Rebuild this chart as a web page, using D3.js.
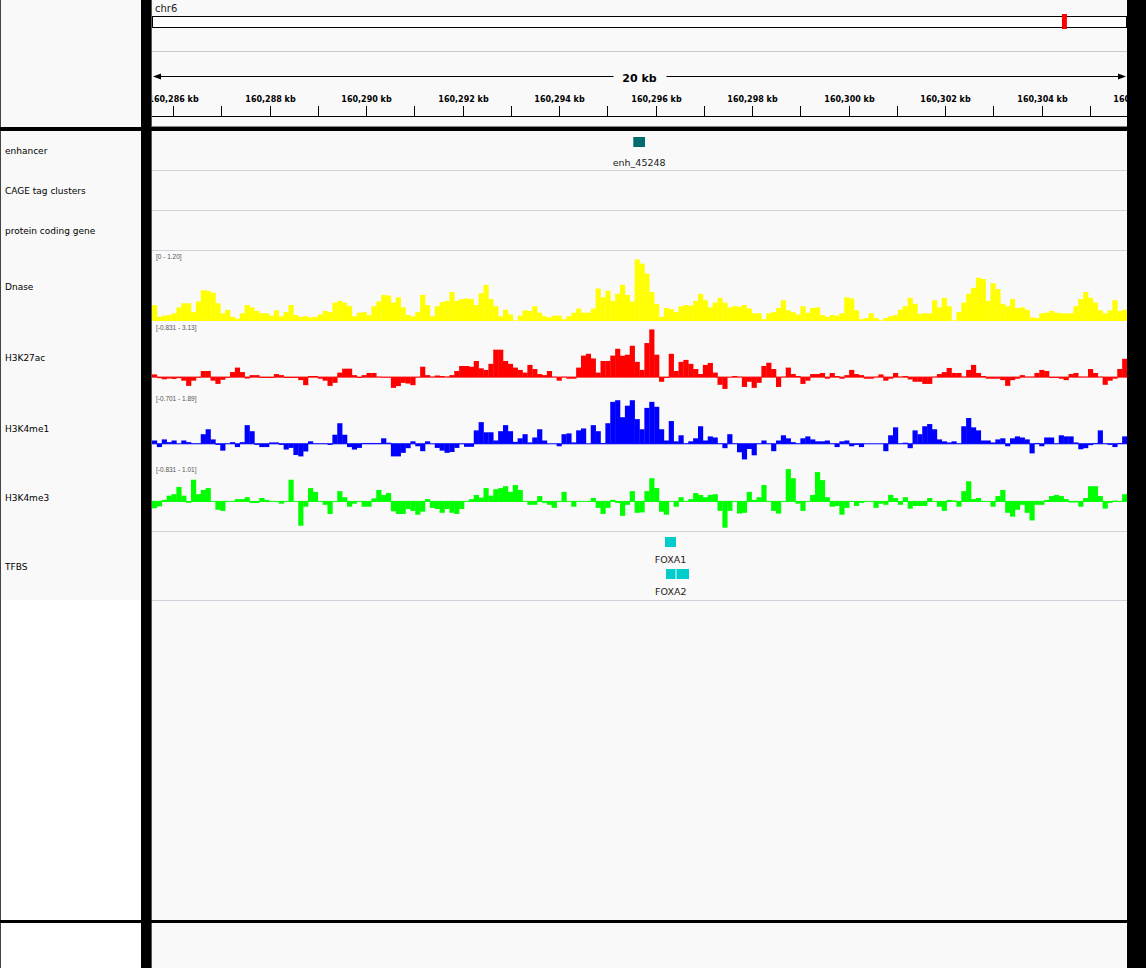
<!DOCTYPE html>
<html><head><meta charset="utf-8">
<script src="https://cdn.jsdelivr.net/npm/d3@7"></script>
<style>body{margin:0;background:#fff}svg{display:block}</style>
</head><body>
<script>
const chromName = "chr6";
const regionStart = 160285561, regionEnd = 160305768;
const chromLength = 171115067;
const tickKb = d3.range(160286, 160307, 1);
const trackNames = ["enhancer","CAGE tag clusters","protein coding gene","Dnase","H3K27ac","H3K4me1","H3K4me3","TFBS"];
const dnaseRange = [0, 1.20], k27Range = [-0.831, 3.13], me1Range = [-0.701, 1.89], me3Range = [-0.831, 1.01];
const enhancers = [{name:"enh_45248", start:160295536, end:160295778}];
const tfbs = [{name:"FOXA1", row:0, blocks:[[160296193,160296421]]},
              {name:"FOXA2", row:1, blocks:[[160296214,160296411],[160296432,160296690]]}];
const dnase = [0.27,0.07,0.09,0.10,0.13,0.23,0.30,0.30,0.15,0.33,0.52,0.51,0.48,0.30,0.13,0.19,0.07,0.04,0.13,0.27,0.23,0.17,0.13,0.13,0.09,0.18,0.08,0.15,0.27,0.10,0.07,0.08,0.06,0.07,0.11,0.17,0.15,0.31,0.34,0.31,0.25,0.08,0.14,0.15,0.10,0.25,0.33,0.44,0.43,0.31,
0.40,0.23,0.10,0.08,0.15,0.44,0.27,0.08,0.25,0.32,0.34,0.49,0.34,0.37,0.38,0.37,0.27,0.47,0.61,0.37,0.25,0.08,0.19,0.11,0.01,0.09,0.18,0.17,0.25,0.14,0.08,0.06,0.09,0.09,0.03,0.08,0.14,0.21,0.14,0.14,0.21,0.55,0.40,0.51,0.34,0.46,0.61,0.44,0.33,1.04,
0.97,0.80,0.49,0.29,0.07,0.22,0.20,0.15,0.25,0.27,0.26,0.34,0.46,0.35,0.23,0.31,0.39,0.31,0.23,0.25,0.24,0.27,0.21,0.13,0.13,0.03,0.13,0.15,0.22,0.35,0.18,0.15,0.11,0.25,0.14,0.22,0.23,0.10,0.07,0.10,0.09,0.13,0.40,0.38,0.18,0.03,0.05,0.13,0.05,0.01,
0.05,0.08,0.10,0.19,0.25,0.39,0.29,0.12,0.13,0.13,0.35,0.23,0.39,0.25,0.01,0.15,0.31,0.46,0.56,0.73,0.71,0.34,0.64,0.54,0.29,0.25,0.37,0.22,0.23,0.19,0.06,0.05,0.13,0.14,0.17,0.14,0.13,0.13,0.13,0.25,0.37,0.49,0.39,0.31,0.18,0.13,0.18,0.35,0.17,0.19];
const h3k27ac = [0.15,-0.06,-0.12,-0.08,-0.10,-0.06,-0.20,-0.49,-0.20,-0.04,0.34,0.34,-0.20,-0.38,-0.15,-0.04,0.28,0.53,0.28,-0.08,0.11,0.11,-0.05,-0.05,-0.05,0.17,0.11,-0.05,-0.05,-0.05,-0.17,-0.45,0.06,0.06,-0.09,-0.20,-0.49,-0.32,0.25,0.47,0.47,0.11,-0.05,0.11,0.23,0.23,0.02,-0.03,-0.03,-0.60,
-0.50,-0.32,-0.36,-0.45,-0.02,0.58,0.11,0.02,0.09,0.06,0.02,0.11,0.34,0.62,0.62,0.58,0.90,0.49,0.40,0.74,1.53,1.53,0.90,0.74,0.53,0.40,0.25,0.68,0.45,0.17,0.11,0.34,0.02,-0.20,0.02,-0.09,-0.09,0.53,1.20,1.30,1.04,0.25,0.90,0.90,1.20,1.58,1.19,1.25,1.75,0.85,
0.40,1.90,2.66,1.25,-0.26,-0.05,1.30,0.34,0.85,0.96,0.74,0.45,0.17,0.68,0.79,0.25,-0.43,-0.66,-0.02,0.06,0.02,-0.55,-0.26,-0.60,-0.32,0.62,0.80,0.45,-0.55,0.02,0.53,0.17,0.06,-0.38,-0.20,0.17,0.17,0.23,-0.09,0.23,0.06,-0.09,0.11,0.40,0.17,0.11,-0.09,-0.09,0.02,0.15,
-0.20,-0.09,0.23,0.02,0.06,-0.13,-0.26,-0.26,-0.38,-0.38,0.02,0.17,0.28,0.51,0.23,0.23,0.02,0.40,0.68,0.23,0.06,-0.09,-0.09,-0.09,-0.17,-0.49,-0.17,-0.09,0.11,0.02,0.02,0.23,0.40,0.34,-0.05,-0.05,-0.09,-0.17,0.17,0.23,0.02,0.02,0.45,0.23,0.02,-0.43,-0.20,-0.09,0.45,1.02];
const h3k4me1 = [0.12,-0.12,0.16,0.06,0.12,0.00,0.12,0.06,0.01,0.01,0.35,0.53,0.16,-0.04,-0.25,0.01,0.06,-0.12,0.06,0.68,0.46,-0.04,-0.12,-0.12,0.05,0.05,-0.04,-0.21,-0.15,-0.41,-0.46,-0.28,0.09,0.01,0.01,0.01,-0.04,0.33,0.75,0.33,-0.12,-0.21,-0.15,0.03,0.03,0.03,0.03,0.20,0.04,-0.46,
-0.46,-0.33,-0.16,0.09,-0.09,-0.27,0.09,0.00,-0.15,-0.25,-0.33,-0.30,-0.15,-0.01,-0.11,-0.11,0.49,0.79,0.42,0.42,0.12,0.46,0.68,0.46,0.07,0.20,0.35,0.05,0.23,0.53,0.12,0.00,0.00,-0.09,0.35,0.38,0.05,0.49,0.56,0.00,0.68,0.46,0.03,0.75,1.53,1.59,0.97,1.39,1.59,0.90,
0.53,1.31,1.53,1.35,0.53,0.12,0.83,0.09,0.31,0.01,0.09,0.20,0.64,0.12,0.27,0.23,0.01,-0.16,0.35,0.01,-0.31,-0.57,-0.19,-0.42,0.01,0.12,0.01,-0.27,0.12,0.31,0.20,0.06,0.01,0.20,0.27,0.16,0.09,0.09,0.12,0.01,-0.12,0.09,0.12,-0.09,-0.04,-0.12,0.00,0.00,0.00,0.00,
-0.27,0.31,0.60,0.01,0.04,-0.16,0.49,0.35,0.64,0.72,0.53,0.16,0.09,0.05,0.09,0.01,0.64,0.94,0.60,0.49,0.12,0.12,0.05,0.16,0.20,-0.09,0.20,0.27,0.23,0.16,-0.35,0.03,-0.09,0.23,0.23,0.01,0.31,0.27,0.27,0.05,-0.20,-0.16,-0.05,0.03,0.49,0.01,-0.04,-0.12,0.03,0.27];
const h3k4me3 = [-0.18,-0.13,0.04,0.15,0.19,0.38,0.15,-0.04,0.57,0.19,0.30,0.35,0.00,-0.22,-0.25,0.00,0.00,0.06,0.06,0.11,-0.04,-0.04,0.09,0.04,0.00,0.00,-0.06,0.00,0.57,0.00,-0.64,-0.14,0.35,0.25,0.00,-0.09,-0.33,0.00,0.27,0.11,-0.14,-0.06,0.00,-0.14,-0.14,0.08,0.30,0.17,0.22,-0.26,
-0.33,-0.33,-0.20,-0.25,-0.35,-0.27,0.06,-0.17,-0.20,-0.30,-0.20,-0.30,-0.33,-0.20,0.00,0.06,0.17,0.10,0.35,0.15,0.32,0.35,0.40,0.25,0.43,0.30,0.00,-0.09,-0.09,0.14,-0.04,-0.09,-0.17,0.00,0.25,0.00,-0.14,0.00,0.00,0.00,0.09,-0.17,-0.33,-0.17,0.04,-0.04,-0.38,-0.09,0.27,-0.30,
-0.29,0.27,0.61,0.35,-0.27,-0.35,0.00,-0.14,0.11,0.00,0.06,0.22,0.17,0.11,0.17,0.19,-0.25,-0.69,-0.25,0.00,-0.32,-0.30,0.25,0.04,0.11,0.43,0.00,-0.25,-0.32,0.00,0.85,0.61,-0.06,-0.25,0.00,0.17,0.77,0.56,0.11,-0.14,-0.12,-0.35,-0.17,0.00,-0.12,-0.04,0.00,0.00,-0.17,-0.06,
-0.09,0.17,0.09,-0.09,0.11,-0.19,-0.12,-0.12,-0.12,0.09,0.00,-0.14,-0.25,0.04,0.02,-0.14,0.27,0.53,0.06,0.09,0.00,0.00,-0.14,0.14,0.30,-0.30,-0.40,-0.22,-0.09,-0.30,-0.50,-0.09,-0.09,0.04,0.14,0.17,0.14,0.06,-0.03,-0.03,-0.14,0.09,0.40,0.40,0.14,-0.19,-0.04,0.02,0.00,0.19];

const W = 1146, H = 968;
const PX0 = 152, PX1 = 1127;
const svg = d3.select("body").append("svg").attr("width", W).attr("height", H);
const x = d3.scaleLinear().domain([regionStart, regionEnd]).range([PX0, PX1]);

// backgrounds
svg.append("rect").attr("x",0).attr("y",0).attr("width",W).attr("height",H).attr("fill","#ffffff");
svg.append("rect").attr("x",0).attr("y",0).attr("width",141).attr("height",128).attr("fill","#f9f9f9");
svg.append("rect").attr("x",0).attr("y",130).attr("width",141).attr("height",470).attr("fill","#f9f9f9");
svg.append("rect").attr("x",PX0-1).attr("y",0).attr("width",PX1-PX0+1).attr("height",H).attr("fill","#f9f9f9");
svg.append("line").attr("x1",0.5).attr("x2",0.5).attr("y1",0).attr("y2",H).attr("stroke","#444");
svg.append("line").attr("x1",PX0-0.5).attr("x2",PX0-0.5).attr("y1",0).attr("y2",H).attr("stroke","#555");

const defs = svg.append("defs");
defs.append("clipPath").attr("id","clip").append("rect").attr("x",PX0).attr("y",0).attr("width",PX1-PX0).attr("height",H);
const g = svg.append("g").attr("clip-path","url(#clip)");

// header: chromosome ideogram
g.append("text").attr("x",155).attr("y",12).attr("font-family","DejaVu Sans").attr("font-size",10).attr("fill","#222").text(chromName);
const ideo = d3.scaleLinear().domain([0, chromLength]).range([PX0, PX1-1]);
g.append("rect").attr("x",ideo(0)+0.5).attr("y",16.5).attr("width",ideo(chromLength)-ideo(0)).attr("height",11).attr("fill","#fff").attr("stroke","#000");
g.append("rect").attr("x",ideo((regionStart+regionEnd)/2)-2.5).attr("y",14).attr("width",5).attr("height",15).attr("fill","#ff0000");
g.append("line").attr("x1",PX0).attr("x2",PX1).attr("y1",51.5).attr("y2",51.5).attr("stroke","#c8c8c8");

// ruler
const rulerY = 76.5;
const spanKb = Math.round((regionEnd-regionStart)/1000);
const midX = x((regionStart+regionEnd)/2);
g.append("line").attr("x1",PX0+2).attr("x2",midX-26).attr("y1",rulerY).attr("y2",rulerY).attr("stroke","#000");
g.append("line").attr("x1",midX+27).attr("x2",PX1-2).attr("y1",rulerY).attr("y2",rulerY).attr("stroke","#000");
g.append("path").attr("d",`M${PX0+1},${rulerY} l8,-3 l0,6 z`).attr("fill","#000");
g.append("path").attr("d",`M${PX1-1},${rulerY} l-8,-3 l0,6 z`).attr("fill","#000");
g.append("text").attr("x",midX).attr("y",rulerY+5).attr("text-anchor","middle").attr("font-family","DejaVu Sans").attr("font-weight","bold").attr("font-size",11).attr("fill","#000").text(spanKb+" kb");
const fmt = d3.format(",");
tickKb.forEach(k => {
  const tx = Math.round(x(k*1000))+0.5;
  g.append("line").attr("x1",tx).attr("x2",tx).attr("y1",106).attr("y2",116).attr("stroke","#000");
  if (k % 2 === 0) {
    g.append("text").attr("x",tx).attr("y",102).attr("text-anchor","middle").attr("font-family","DejaVu Sans").attr("font-weight","bold").attr("font-size",8).attr("fill","#000").text(fmt(k)+" kb");
  }
});
g.append("line").attr("x1",PX0).attr("x2",PX1).attr("y1",116.5).attr("y2",116.5).attr("stroke","#000");
g.append("line").attr("x1",PX0).attr("x2",PX1).attr("y1",126.5).attr("y2",126.5).attr("stroke","#888");

// row layout
const rows = [
  {name:trackNames[0], top:130, h:40},
  {name:trackNames[1], top:170, h:40},
  {name:trackNames[2], top:210, h:40},
  {name:trackNames[3], top:250, h:71},
  {name:trackNames[4], top:321, h:71},
  {name:trackNames[5], top:392, h:71},
  {name:trackNames[6], top:463, h:68},
  {name:trackNames[7], top:531, h:69}
];
rows.forEach(r => {
  svg.append("text").attr("x",5).attr("y",r.top+r.h/2+4).attr("font-family","DejaVu Sans").attr("font-size",9).attr("fill","#000").text(r.name);
});
[170,210,250,531,600].forEach(yy => {
  g.append("line").attr("x1",PX0).attr("x2",PX1).attr("y1",yy+0.5).attr("y2",yy+0.5).attr("stroke","#d2d2dc");
});

// enhancer
enhancers.forEach(f => {
  g.append("rect").attr("x",x(f.start)).attr("y",137).attr("width",x(f.end)-x(f.start)).attr("height",10).attr("fill","#006b6b");
  g.append("text").attr("x",x((f.start+f.end)/2)).attr("y",166).attr("text-anchor","middle").attr("font-family","DejaVu Sans").attr("font-size",9.5).attr("fill","#222").text(f.name);
});

// signal tracks
function drawSignal(values, range, top, h, color, label, baseline) {
  const y = d3.scaleLinear().domain(range).range([top+h, top]);
  const n = values.length;
  const bin = (regionEnd - regionStart) / n;
  const y0 = y(Math.max(range[0], 0));
  g.append("g").selectAll("rect").data(values).join("rect")
    .attr("x", (d,i) => x(regionStart + i*bin))
    .attr("width", (d,i) => x(regionStart + (i+1)*bin) - x(regionStart + i*bin) + 0.3)
    .attr("y", d => d >= 0 ? y(d) : y0)
    .attr("height", d => Math.abs(y(d) - y0))
    .attr("fill", color);
  if (baseline) g.append("line").attr("x1",PX0).attr("x2",PX1).attr("y1",y0).attr("y2",y0).attr("stroke",color).attr("stroke-width",1);
  g.append("text").attr("x",156).attr("y",top+9).attr("font-family","Liberation Sans").attr("font-size",6.5).attr("fill","#555").text(label);
}
drawSignal(dnase, dnaseRange, 250, 71, "#ffff00", "[0 - 1.20]", false);
drawSignal(h3k27ac, k27Range, 321, 71, "#ff0000", "[-0.831 - 3.13]", true);
drawSignal(h3k4me1, me1Range, 392, 71, "#0000ff", "[-0.701 - 1.89]", true);
drawSignal(h3k4me3, me3Range, 463, 70, "#00ff00", "[-0.831 - 1.01]", true);

// TFBS
tfbs.forEach(f => {
  const yy = 537 + f.row*32;
  f.blocks.forEach(b => {
    g.append("rect").attr("x",x(b[0])).attr("y",yy).attr("width",x(b[1])-x(b[0])).attr("height",10).attr("fill","#00cccc");
  });
  const b0 = f.blocks[0];
  g.append("text").attr("x",x((b0[0]+b0[1])/2)).attr("y",yy+26).attr("text-anchor","middle").attr("font-family","DejaVu Sans").attr("font-size",9.5).attr("fill","#222").text(f.name);
});

// black frame separators
svg.append("rect").attr("x",141).attr("y",0).attr("width",10).attr("height",H).attr("fill","#000");
svg.append("rect").attr("x",PX1).attr("y",0).attr("width",W-PX1).attr("height",H).attr("fill","#000");
svg.append("rect").attr("x",0).attr("y",127).attr("width",W).attr("height",4).attr("fill","#000");
svg.append("rect").attr("x",0).attr("y",920).attr("width",W).attr("height",3).attr("fill","#000");
</script>
</body></html>
